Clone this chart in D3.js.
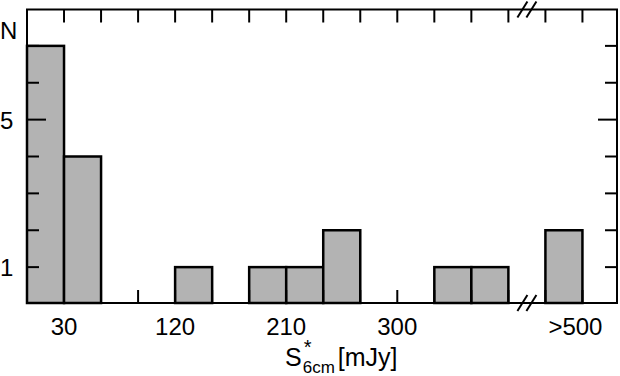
<!DOCTYPE html>
<html>
<head>
<meta charset="utf-8">
<script src="https://cdn.jsdelivr.net/npm/d3@7/dist/d3.min.js"></script>
<style>
  body { margin: 0; background: #fff; }
  text { font-family: "Liberation Sans", Arial, sans-serif; fill: #000; }
</style>
</head>
<body>
<svg id="chart" width="620" height="376"></svg>
<script>
// ---- data ----
const binStart  = [0, 30, 120, 180, 210, 240, 330, 360];   // mJy, bin width 30
const binCount  = [7, 4, 1, 1, 1, 2, 1, 1];
const binWidth  = 30;
const overflowLabel = ">500";
const overflowCount = 2;
const xTickLabels = [30, 120, 210, 300];
const yTicks = [1, 2, 3, 4, 5, 6, 7];
const yLabels = [1, 5];

// broken axis: 0..390 mJy, then a gap, then the ">500" bin
const breakAt = 390;
const overflowSlot = 420;

const svg = d3.select("#chart");
const pLeft = 27, pRight = 617, pTop = 9.5, pBottom = 303;

const x = d3.scaleLinear().domain([0, 478]).range([pLeft, pRight]);
const y = d3.scaleLinear().domain([0, 8]).range([304, 9]);

const bars = binStart.map((s, i) => ({ x0: s, n: binCount[i] }));
bars.push({ x0: overflowSlot, n: overflowCount });

// bars
svg.append("g").selectAll("rect")
  .data(bars)
  .join("rect")
    .attr("x", d => x(d.x0))
    .attr("y", d => y(d.n))
    .attr("width", d => x(d.x0 + binWidth) - x(d.x0))
    .attr("height", d => pBottom - y(d.n))
    .attr("fill", "#b3b3b3")
    .attr("stroke", "#000")
    .attr("stroke-width", 2.5);

// frame
svg.append("rect")
  .attr("x", pLeft).attr("y", pTop)
  .attr("width", pRight - pLeft).attr("height", pBottom - pTop)
  .attr("fill", "none").attr("stroke", "#000").attr("stroke-width", 2);

// x ticks, top and bottom, every 30
const xt = d3.range(30, 451, 30);
const tk = svg.append("g").attr("stroke", "#000").attr("stroke-width", 2);
xt.forEach(v => {
  tk.append("line").attr("x1", x(v)).attr("x2", x(v)).attr("y1", pTop).attr("y2", pTop + 13);
  tk.append("line").attr("x1", x(v)).attr("x2", x(v)).attr("y1", pBottom).attr("y2", pBottom - 13);
});

// y ticks, left and right
yTicks.forEach(v => {
  const len = v === 5 ? 19 : 12;
  tk.append("line").attr("x1", pLeft).attr("x2", pLeft + len).attr("y1", y(v)).attr("y2", y(v));
  tk.append("line").attr("x1", pRight).attr("x2", pRight - len).attr("y1", y(v)).attr("y2", y(v));
});

// axis break marks
const bx = (x(breakAt) + x(overflowSlot)) / 2;
[pTop, pBottom].forEach(yy => {
  [-4.5, 4.5].forEach(off => {
    svg.append("line")
      .attr("x1", bx + off - 5).attr("y1", yy + 8)
      .attr("x2", bx + off + 5).attr("y2", yy - 8)
      .attr("stroke", "#000").attr("stroke-width", 2);
  });
});

// y labels
svg.append("text").attr("x", 0).attr("y", 38.5)
  .attr("font-size", 24).text("N");
yLabels.forEach(v => {
  svg.append("text").attr("x", 0).attr("y", y(v) + 9)
    .attr("font-size", 24).text(v);
});

// x labels
xTickLabels.forEach(v => {
  svg.append("text").attr("x", x(v)).attr("y", 335)
    .attr("text-anchor", "middle").attr("font-size", 24).text(v);
});
const ov = svg.append("text").attr("x", x(overflowSlot + binWidth)).attr("y", 335)
  .attr("text-anchor", "middle").attr("font-size", 24).text(overflowLabel.slice(1));
svg.append("text").attr("x", x(overflowSlot + binWidth) - ov.node().getComputedTextLength() / 2).attr("y", 335)
  .attr("text-anchor", "end").attr("font-size", 24).text(overflowLabel[0]);

// axis title: S*_6cm [mJy], one text element with stacked super/subscript
const tx = 285, ty = 366;
const title = svg.append("text").attr("x", tx).attr("y", ty);
const s = title.append("tspan").attr("font-size", 25).text("S");
const sw = s.node().getComputedTextLength();
title.append("tspan").attr("font-size", 20).attr("dx", 2).attr("dy", -12).text("*");
const sub = title.append("tspan").attr("font-size", 17)
  .attr("x", tx + sw + 1).attr("dy", 19).text("6cm");
const subw = sub.node().getComputedTextLength();
title.append("tspan").attr("font-size", 25)
  .attr("x", tx + sw + subw + 4).attr("dy", -7).text("[mJy]");
</script>
</body>
</html>
